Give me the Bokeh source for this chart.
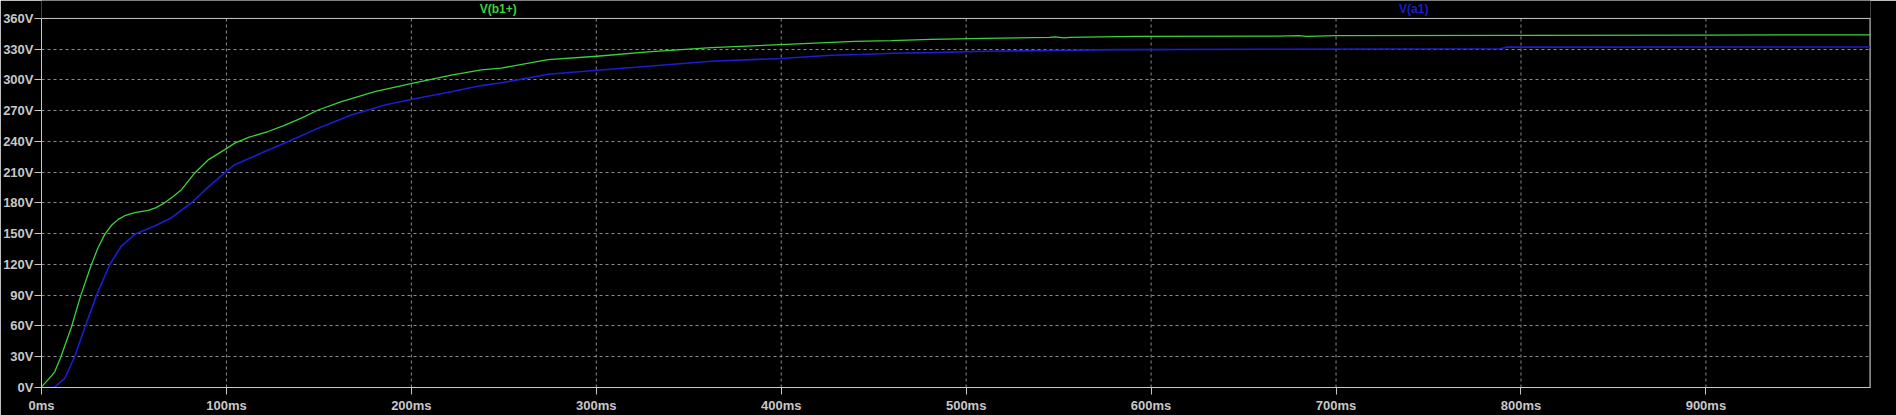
from bokeh.plotting import figure
from bokeh.models import Range1d, FixedTicker, PrintfTickFormatter, Span
from bokeh.core.properties import value
from bokeh.embed import file_html
from bokeh.resources import INLINE

# ---- data (time in ms, voltage in V) ----
t_b1 = [0, 0.4, 5.4, 7.2, 10.4, 16.2, 21.2, 27.0, 30.5, 34.2, 38, 41.5, 45.5, 50.4,
        57.7, 62, 66.6, 71, 75.7, 82.9, 90.1, 99.1, 104.5, 112, 122.5, 131,
        140.5, 149.6, 162.2, 180.2, 200.4, 221.6, 237.8, 248.6, 273.9, 300.4,
        327.9, 362.2, 399.8, 439.6, 459.5, 481, 509.7, 545, 548, 553, 556,
        590.8, 668.5, 680, 684, 700, 800, 900, 989]
v_b1 = [0, 1.3, 11.3, 15.5, 29.5, 59.0, 89.6, 120, 136, 149.4, 158.5, 164,
        168, 170.5, 172.7, 175.5, 180.2, 186, 193, 209.3, 222, 232, 238.4,
        244, 249.7, 255.5, 262.7, 270.7, 278.8, 288.5, 296.6, 304.7, 309.8,
        311.6, 319.9, 323.1, 327.3, 331.6, 334.5, 337.7, 338.3, 339.6, 340.6,
        341.5, 342.0, 341.0, 341.6, 342.5, 342.8, 343.2, 342.6, 343.2, 343.5,
        343.8, 344.0]

t_a1 = [0, 5, 7.2, 12.6, 18, 23.8, 29.7, 36.9, 43.2, 50.4, 61.2, 70.3, 81.1,
        90.1, 100, 104.5, 118.9, 133.4, 149.6, 167.6, 185.6, 200.4, 221.6,
        237.8, 248.6, 273.9, 300.4, 327.9, 362.2, 399.8, 427, 443, 461, 482.7,
        509, 542, 582.7, 668, 789, 792, 989]
v_a1 = [0, 0, 0.5, 9, 30.5, 60.5, 89.6, 120, 138, 149.4, 157.5, 165.6, 180.2,
        195.5, 210.8, 217.3, 228.7, 240, 253, 265.9, 275.6, 281.1, 288.5,
        294.5, 297.2, 305.6, 309.5, 313.4, 318.3, 320.9, 324.1, 324.8, 326,
        326.7, 328, 328.6, 329.6, 330, 330.4, 332, 332.1]

x_ticks = [0, 100, 200, 300, 400, 500, 600, 700, 800, 900]
y_ticks = [0, 30, 60, 90, 120, 150, 180, 210, 240, 270, 300, 330, 360]
series_names = ["V(b1+)", "V(a1)"]
label_t = [247, 742]

X_MAX = 989
Y_MAX = 360
Y_TOP = 377.5     # room above the plot box for the trace names

GREEN = "#3cd23c"
BLUE = "#1c1cd0"
FG = "#c8c8c8"
GRID = "#8c8c8c"
FONT = "Liberation Sans"

p = figure(width=1896, height=415, output_backend="svg", toolbar_location=None,
           x_range=Range1d(0, X_MAX), y_range=Range1d(0, Y_TOP),
           background_fill_color="black", border_fill_color="black",
           min_border_left=40, min_border_right=26, min_border_top=0,
           min_border_bottom=26)
p.outline_line_color = None

for ax in (p.xaxis[0], p.yaxis[0]):
    ax.axis_line_color = FG
    ax.major_tick_line_color = FG
    ax.minor_tick_line_color = None
    ax.major_tick_in = 0
    ax.major_tick_out = 7
    ax.major_label_text_color = FG
    ax.major_label_text_font = FONT
    ax.major_label_text_font_style = "bold"
    ax.major_label_text_font_size = "13px"

p.yaxis.bounds = (0, Y_MAX)
p.xaxis.ticker = FixedTicker(ticks=x_ticks)
p.yaxis.ticker = FixedTicker(ticks=y_ticks)
p.xaxis.formatter = PrintfTickFormatter(format="%dms")
p.yaxis.formatter = PrintfTickFormatter(format="%dV")
p.xaxis.major_label_standoff = 3
p.yaxis.major_label_standoff = 1

# grid: horizontal lines via the grid, vertical lines stop at the box top
p.xgrid.visible = False
p.ygrid.ticker = FixedTicker(ticks=y_ticks[1:-1])
p.ygrid.grid_line_color = GRID
p.ygrid.grid_line_dash = "3 3"
p.segment(x0=x_ticks[1:], y0=[0] * (len(x_ticks) - 1), x1=x_ticks[1:],
          y1=[Y_MAX] * (len(x_ticks) - 1), line_color=GRID, line_dash="3 3",
          line_width=1)

# plot box (top and right edges)
p.add_layout(Span(location=Y_MAX, dimension="width", line_color=FG, line_width=1))
p.segment(x0=[X_MAX], y0=[0], x1=[X_MAX], y1=[Y_MAX], line_color=FG, line_width=2)

p.line(t_b1, v_b1, line_color=GREEN, line_width=1.3)
p.line(t_a1, v_a1, line_color=BLUE, line_width=1.6)

p.text(x=label_t, y=[(Y_MAX + Y_TOP) / 2] * 2, text=series_names,
       text_color=[GREEN, BLUE], text_font=value(FONT), text_font_style="bold",
       text_font_size="12px", text_align="center", text_baseline="middle")

open("out.html", "w").write(file_html(p, INLINE))
